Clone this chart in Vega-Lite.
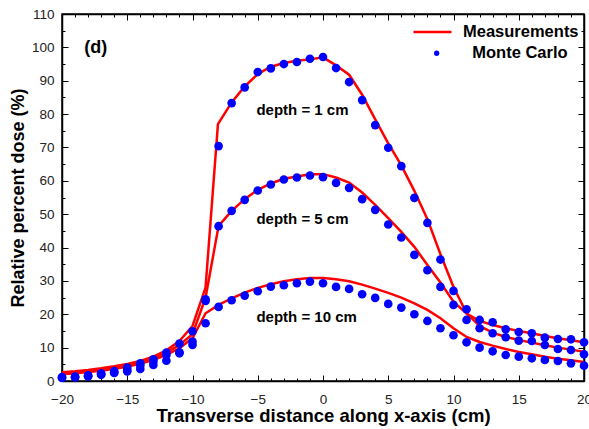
{
  "$schema": "https://vega.github.io/schema/vega-lite/v6.json",
  "width": 522,
  "height": 367,
  "autosize": {"type": "none"},
  "padding": {"left": 62, "top": 14, "right": 5, "bottom": 48},
  "background": "#ffffff",
  "config": {
    "view": {"stroke": "#000000", "strokeWidth": 1.5},
    "axis": {"grid": false, "labelFont": "Liberation Sans", "titleFont": "Liberation Sans", "tickColor": "#000000", "domainColor": "#000000", "domainWidth": 1.5, "tickWidth": 1, "labelColor": "#222222", "labelFlush": false, "labelOverlap": false, "titleColor": "#000000"}
  },
  "datasets": {
    "meas": [
      {"depth": 1, "x": -20, "y": 2.6}, {"depth": 1, "x": -19, "y": 2.9}, {"depth": 1, "x": -18, "y": 3.3}, {"depth": 1, "x": -17, "y": 3.8}, {"depth": 1, "x": -16, "y": 4.4}, {"depth": 1, "x": -15, "y": 5.1}, {"depth": 1, "x": -14, "y": 6.0}, {"depth": 1, "x": -13, "y": 7.3}, {"depth": 1, "x": -12, "y": 9.2}, {"depth": 1, "x": -11, "y": 12.0}, {"depth": 1, "x": -10, "y": 16.5}, {"depth": 1, "x": -9, "y": 28.0}, {"depth": 1, "x": -8.05, "y": 77.0}, {"depth": 1, "x": -7, "y": 83.5}, {"depth": 1, "x": -6, "y": 88.3}, {"depth": 1, "x": -5, "y": 92.0}, {"depth": 1, "x": -4, "y": 94.2}, {"depth": 1, "x": -3, "y": 95.3}, {"depth": 1, "x": -2, "y": 96.0}, {"depth": 1, "x": -1, "y": 96.4}, {"depth": 1, "x": 0, "y": 97.0}, {"depth": 1, "x": 1, "y": 94.6}, {"depth": 1, "x": 2, "y": 91.8}, {"depth": 1, "x": 3, "y": 85.8}, {"depth": 1, "x": 4, "y": 78.4}, {"depth": 1, "x": 5, "y": 71.2}, {"depth": 1, "x": 6, "y": 64.6}, {"depth": 1, "x": 7, "y": 57.0}, {"depth": 1, "x": 8, "y": 48.5}, {"depth": 1, "x": 9, "y": 38.0}, {"depth": 1, "x": 10, "y": 28.2}, {"depth": 1, "x": 11, "y": 20.3}, {"depth": 1, "x": 12, "y": 16.5}, {"depth": 1, "x": 13, "y": 14.5}, {"depth": 1, "x": 14, "y": 13.2}, {"depth": 1, "x": 15, "y": 12.3}, {"depth": 1, "x": 16, "y": 11.5}, {"depth": 1, "x": 17, "y": 10.7}, {"depth": 1, "x": 18, "y": 10.0}, {"depth": 1, "x": 19, "y": 9.4}, {"depth": 1, "x": 20, "y": 8.8},
      {"depth": 5, "x": -20, "y": 2.2}, {"depth": 5, "x": -19, "y": 2.5}, {"depth": 5, "x": -18, "y": 2.9}, {"depth": 5, "x": -17, "y": 3.4}, {"depth": 5, "x": -16, "y": 4.0}, {"depth": 5, "x": -15, "y": 4.7}, {"depth": 5, "x": -14, "y": 5.6}, {"depth": 5, "x": -13, "y": 6.8}, {"depth": 5, "x": -12, "y": 8.5}, {"depth": 5, "x": -11, "y": 10.8}, {"depth": 5, "x": -10, "y": 14.0}, {"depth": 5, "x": -9, "y": 25.0}, {"depth": 5, "x": -8, "y": 46.5}, {"depth": 5, "x": -7, "y": 51.0}, {"depth": 5, "x": -6, "y": 54.5}, {"depth": 5, "x": -5, "y": 57.3}, {"depth": 5, "x": -4, "y": 59.2}, {"depth": 5, "x": -3, "y": 60.6}, {"depth": 5, "x": -2, "y": 61.3}, {"depth": 5, "x": -1, "y": 62.0}, {"depth": 5, "x": 0, "y": 62.0}, {"depth": 5, "x": 1, "y": 61.0}, {"depth": 5, "x": 2, "y": 59.5}, {"depth": 5, "x": 3, "y": 56.5}, {"depth": 5, "x": 4, "y": 52.8}, {"depth": 5, "x": 5, "y": 48.8}, {"depth": 5, "x": 6, "y": 44.7}, {"depth": 5, "x": 7, "y": 40.2}, {"depth": 5, "x": 8, "y": 34.8}, {"depth": 5, "x": 9, "y": 29.5}, {"depth": 5, "x": 10, "y": 23.8}, {"depth": 5, "x": 11, "y": 20.2}, {"depth": 5, "x": 12, "y": 18.0}, {"depth": 5, "x": 13, "y": 16.8}, {"depth": 5, "x": 14, "y": 15.8}, {"depth": 5, "x": 15, "y": 15.0}, {"depth": 5, "x": 16, "y": 14.3}, {"depth": 5, "x": 17, "y": 13.5}, {"depth": 5, "x": 18, "y": 12.8}, {"depth": 5, "x": 19, "y": 12.2}, {"depth": 5, "x": 20, "y": 11.6},
      {"depth": 10, "x": -20, "y": 2.0}, {"depth": 10, "x": -19, "y": 2.3}, {"depth": 10, "x": -18, "y": 2.7}, {"depth": 10, "x": -17, "y": 3.1}, {"depth": 10, "x": -16, "y": 3.7}, {"depth": 10, "x": -15, "y": 4.3}, {"depth": 10, "x": -14, "y": 5.2}, {"depth": 10, "x": -13, "y": 6.3}, {"depth": 10, "x": -12, "y": 7.8}, {"depth": 10, "x": -11, "y": 9.8}, {"depth": 10, "x": -10, "y": 12.8}, {"depth": 10, "x": -9, "y": 20.3}, {"depth": 10, "x": -8, "y": 22.8}, {"depth": 10, "x": -7, "y": 24.8}, {"depth": 10, "x": -6, "y": 26.5}, {"depth": 10, "x": -5, "y": 27.9}, {"depth": 10, "x": -4, "y": 29.0}, {"depth": 10, "x": -3, "y": 29.9}, {"depth": 10, "x": -2, "y": 30.5}, {"depth": 10, "x": -1, "y": 30.9}, {"depth": 10, "x": 0, "y": 30.9}, {"depth": 10, "x": 1, "y": 30.5}, {"depth": 10, "x": 2, "y": 29.9}, {"depth": 10, "x": 3, "y": 28.9}, {"depth": 10, "x": 4, "y": 27.7}, {"depth": 10, "x": 5, "y": 26.4}, {"depth": 10, "x": 6, "y": 25.0}, {"depth": 10, "x": 7, "y": 23.3}, {"depth": 10, "x": 8, "y": 21.3}, {"depth": 10, "x": 9, "y": 18.8}, {"depth": 10, "x": 10, "y": 15.8}, {"depth": 10, "x": 11, "y": 13.2}, {"depth": 10, "x": 12, "y": 11.7}, {"depth": 10, "x": 13, "y": 10.6}, {"depth": 10, "x": 14, "y": 9.6}, {"depth": 10, "x": 15, "y": 8.7}, {"depth": 10, "x": 16, "y": 8.0}, {"depth": 10, "x": 17, "y": 7.3}, {"depth": 10, "x": 18, "y": 6.7}, {"depth": 10, "x": 19, "y": 6.2}, {"depth": 10, "x": 20, "y": 5.7}
    ],
    "mc": [
      {"depth": 1, "x": -20, "y": 1.2}, {"depth": 1, "x": -19, "y": 1.3}, {"depth": 1, "x": -18, "y": 1.7}, {"depth": 1, "x": -17, "y": 2.3}, {"depth": 1, "x": -16, "y": 3.0}, {"depth": 1, "x": -15, "y": 4.0}, {"depth": 1, "x": -14, "y": 5.3}, {"depth": 1, "x": -13, "y": 6.5}, {"depth": 1, "x": -12, "y": 8.5}, {"depth": 1, "x": -11, "y": 11.2}, {"depth": 1, "x": -10, "y": 14.9}, {"depth": 1, "x": -9, "y": 24.5}, {"depth": 1, "x": -8, "y": 70.4}, {"depth": 1, "x": -7, "y": 83.3}, {"depth": 1, "x": -6, "y": 88.0}, {"depth": 1, "x": -5, "y": 92.6}, {"depth": 1, "x": -4, "y": 93.7}, {"depth": 1, "x": -3, "y": 95.0}, {"depth": 1, "x": -2, "y": 95.6}, {"depth": 1, "x": -1, "y": 96.6}, {"depth": 1, "x": 0, "y": 97.1}, {"depth": 1, "x": 1, "y": 93.8}, {"depth": 1, "x": 2, "y": 89.6}, {"depth": 1, "x": 3, "y": 84.2}, {"depth": 1, "x": 4, "y": 76.7}, {"depth": 1, "x": 5, "y": 69.9}, {"depth": 1, "x": 6, "y": 64.4}, {"depth": 1, "x": 7, "y": 54.9}, {"depth": 1, "x": 8, "y": 47.4}, {"depth": 1, "x": 9, "y": 36.4}, {"depth": 1, "x": 10, "y": 27.0}, {"depth": 1, "x": 11, "y": 18.3}, {"depth": 1, "x": 12, "y": 15.8}, {"depth": 1, "x": 13, "y": 14.3}, {"depth": 1, "x": 14, "y": 13.1}, {"depth": 1, "x": 15, "y": 12.1}, {"depth": 1, "x": 16, "y": 12.0}, {"depth": 1, "x": 17, "y": 10.8}, {"depth": 1, "x": 18, "y": 9.6}, {"depth": 1, "x": 19, "y": 9.3}, {"depth": 1, "x": 20, "y": 8.0},
      {"depth": 5, "x": -20, "y": 1.0}, {"depth": 5, "x": -19, "y": 1.2}, {"depth": 5, "x": -18, "y": 1.5}, {"depth": 5, "x": -17, "y": 2.0}, {"depth": 5, "x": -16, "y": 2.6}, {"depth": 5, "x": -15, "y": 3.3}, {"depth": 5, "x": -14, "y": 4.6}, {"depth": 5, "x": -13, "y": 5.8}, {"depth": 5, "x": -12, "y": 7.8}, {"depth": 5, "x": -11, "y": 8.6}, {"depth": 5, "x": -10, "y": 11.8}, {"depth": 5, "x": -9, "y": 24.0}, {"depth": 5, "x": -8, "y": 46.4}, {"depth": 5, "x": -7, "y": 51.0}, {"depth": 5, "x": -6, "y": 54.3}, {"depth": 5, "x": -5, "y": 57.1}, {"depth": 5, "x": -4, "y": 58.9}, {"depth": 5, "x": -3, "y": 60.4}, {"depth": 5, "x": -2, "y": 61.0}, {"depth": 5, "x": -1, "y": 61.6}, {"depth": 5, "x": 0, "y": 61.1}, {"depth": 5, "x": 1, "y": 59.4}, {"depth": 5, "x": 2, "y": 57.9}, {"depth": 5, "x": 3, "y": 54.5}, {"depth": 5, "x": 4, "y": 51.3}, {"depth": 5, "x": 5, "y": 46.9}, {"depth": 5, "x": 6, "y": 43.0}, {"depth": 5, "x": 7, "y": 37.8}, {"depth": 5, "x": 8, "y": 33.2}, {"depth": 5, "x": 9, "y": 28.2}, {"depth": 5, "x": 10, "y": 22.8}, {"depth": 5, "x": 11, "y": 21.5}, {"depth": 5, "x": 12, "y": 18.3}, {"depth": 5, "x": 13, "y": 17.6}, {"depth": 5, "x": 14, "y": 15.5}, {"depth": 5, "x": 15, "y": 14.7}, {"depth": 5, "x": 16, "y": 14.3}, {"depth": 5, "x": 17, "y": 13.0}, {"depth": 5, "x": 18, "y": 12.6}, {"depth": 5, "x": 19, "y": 12.5}, {"depth": 5, "x": 20, "y": 11.6},
      {"depth": 10, "x": -20, "y": 0.9}, {"depth": 10, "x": -19, "y": 1.1}, {"depth": 10, "x": -18, "y": 1.4}, {"depth": 10, "x": -17, "y": 1.9}, {"depth": 10, "x": -16, "y": 2.4}, {"depth": 10, "x": -15, "y": 2.9}, {"depth": 10, "x": -14, "y": 3.6}, {"depth": 10, "x": -13, "y": 4.8}, {"depth": 10, "x": -12, "y": 6.1}, {"depth": 10, "x": -11, "y": 8.3}, {"depth": 10, "x": -10, "y": 10.8}, {"depth": 10, "x": -9, "y": 17.3}, {"depth": 10, "x": -8, "y": 22.2}, {"depth": 10, "x": -7, "y": 24.2}, {"depth": 10, "x": -6, "y": 25.6}, {"depth": 10, "x": -5, "y": 26.9}, {"depth": 10, "x": -4, "y": 28.3}, {"depth": 10, "x": -3, "y": 28.7}, {"depth": 10, "x": -2, "y": 29.3}, {"depth": 10, "x": -1, "y": 29.8}, {"depth": 10, "x": 0, "y": 29.3}, {"depth": 10, "x": 1, "y": 28.2}, {"depth": 10, "x": 2, "y": 27.6}, {"depth": 10, "x": 3, "y": 26.0}, {"depth": 10, "x": 4, "y": 24.9}, {"depth": 10, "x": 5, "y": 23.1}, {"depth": 10, "x": 6, "y": 22.0}, {"depth": 10, "x": 7, "y": 20.0}, {"depth": 10, "x": 8, "y": 18.0}, {"depth": 10, "x": 9, "y": 15.8}, {"depth": 10, "x": 10, "y": 13.7}, {"depth": 10, "x": 11, "y": 11.6}, {"depth": 10, "x": 12, "y": 10.0}, {"depth": 10, "x": 13, "y": 8.9}, {"depth": 10, "x": 14, "y": 7.8}, {"depth": 10, "x": 15, "y": 7.3}, {"depth": 10, "x": 16, "y": 6.8}, {"depth": 10, "x": 17, "y": 6.3}, {"depth": 10, "x": 18, "y": 6.0}, {"depth": 10, "x": 19, "y": 5.3}, {"depth": 10, "x": 20, "y": 4.6}
    ],
    "depthLabels": [
      {"x": -5.1, "y": 79.7, "label": "depth = 1 cm"},
      {"x": -5.1, "y": 47.1, "label": "depth = 5 cm"},
      {"x": -5.1, "y": 17.8, "label": "depth = 10 cm"}
    ],
    "panel": [
      {"x": -18.3, "y": 98.2, "label": "(d)"}
    ]
  },
  "resolve": {"axis": {"x": "independent", "y": "independent"}},
  "layer": [
    {
      "data": {"name": "meas"},
      "mark": {"type": "line", "strokeWidth": 2.5, "clip": true},
      "encoding": {
        "x": {"field": "x", "type": "quantitative", "scale": {"domain": [-20, 20], "nice": false, "zero": false},
          "axis": {"orient": "bottom", "values": [-20, -15, -10, -5, 0, 5, 10, 15, 20], "tickSize": -6, "labelPadding": 17, "labelFontSize": 13.5, "title": "Transverse distance along x-axis (cm)", "titleFontSize": 18.5, "titleFontWeight": "bold", "titlePadding": 1}},
        "y": {"field": "y", "type": "quantitative", "scale": {"domain": [0, 110], "nice": false, "zero": false},
          "axis": {"orient": "left", "values": [0, 10, 20, 30, 40, 50, 60, 70, 80, 90, 100, 110], "tickSize": -6, "labelPadding": 14, "labelFontSize": 13.5, "title": "Relative percent dose (%)", "titleFontSize": 18, "titleFontWeight": "bold", "titlePadding": 4}},
        "detail": {"field": "depth", "type": "nominal"},
        "stroke": {"datum": "Measurements", "type": "nominal", "scale": {"range": ["#ff0000"]},
          "legend": {"orient": "none", "legendX": 350, "legendY": -2.5, "title": null, "symbolType": "stroke", "symbolSize": 1444, "symbolStrokeWidth": 2.5, "labelFont": "Liberation Sans", "labelFontSize": 16.5, "labelFontWeight": "bold", "labelColor": "#000000", "labelOffset": 10, "padding": 0}}
      }
    },
    {
      "data": {"name": "mc"},
      "mark": {"type": "point", "filled": true, "size": 75, "opacity": 1},
      "encoding": {
        "x": {"field": "x", "type": "quantitative",
          "axis": {"orient": "bottom", "values": [-20,-19,-18,-17,-16,-15,-14,-13,-12,-11,-10,-9,-8,-7,-6,-5,-4,-3,-2,-1,0,1,2,3,4,5,6,7,8,9,10,11,12,13,14,15,16,17,18,19,20], "tickSize": -3, "labels": false, "domain": false, "title": null}},
        "y": {"field": "y", "type": "quantitative",
          "axis": {"orient": "left", "values": [0,5,10,15,20,25,30,35,40,45,50,55,60,65,70,75,80,85,90,95,100,105,110], "tickSize": -3, "labels": false, "domain": false, "title": null}},
        "fill": {"datum": "Monte Carlo", "type": "nominal", "scale": {"range": ["#0000ff"]},
          "legend": {"orient": "none", "legendX": 366.4, "legendY": 31, "title": null, "symbolType": "circle", "symbolSize": 28, "symbolStrokeWidth": 0, "labelFont": "Liberation Sans", "labelFontSize": 16.5, "labelFontWeight": "bold", "labelColor": "#000000", "labelOffset": 27.4, "padding": 0}}
      }
    },
    {
      "data": {"name": "depthLabels"},
      "mark": {"type": "text", "align": "left", "baseline": "alphabetic", "font": "Liberation Sans", "fontSize": 15, "fontWeight": "bold", "color": "#000000"},
      "encoding": {
        "x": {"field": "x", "type": "quantitative",
          "axis": {"orient": "top", "values": [-20, -15, -10, -5, 0, 5, 10, 15, 20], "tickSize": -6, "labels": false, "title": null}},
        "y": {"field": "y", "type": "quantitative",
          "axis": {"orient": "right", "values": [0, 10, 20, 30, 40, 50, 60, 70, 80, 90, 100, 110], "tickSize": -6, "labels": false, "title": null}},
        "text": {"field": "label", "type": "nominal"}
      }
    },
    {
      "data": {"name": "panel"},
      "mark": {"type": "text", "align": "left", "baseline": "alphabetic", "font": "Liberation Sans", "fontSize": 18, "fontWeight": "bold", "color": "#000000"},
      "encoding": {
        "x": {"field": "x", "type": "quantitative",
          "axis": {"orient": "top", "values": [-20,-19,-18,-17,-16,-15,-14,-13,-12,-11,-10,-9,-8,-7,-6,-5,-4,-3,-2,-1,0,1,2,3,4,5,6,7,8,9,10,11,12,13,14,15,16,17,18,19,20], "tickSize": -3, "labels": false, "domain": false, "title": null}},
        "y": {"field": "y", "type": "quantitative",
          "axis": {"orient": "right", "values": [0,5,10,15,20,25,30,35,40,45,50,55,60,65,70,75,80,85,90,95,100,105,110], "tickSize": -3, "labels": false, "domain": false, "title": null}},
        "text": {"field": "label", "type": "nominal"}
      }
    }
  ]
}
